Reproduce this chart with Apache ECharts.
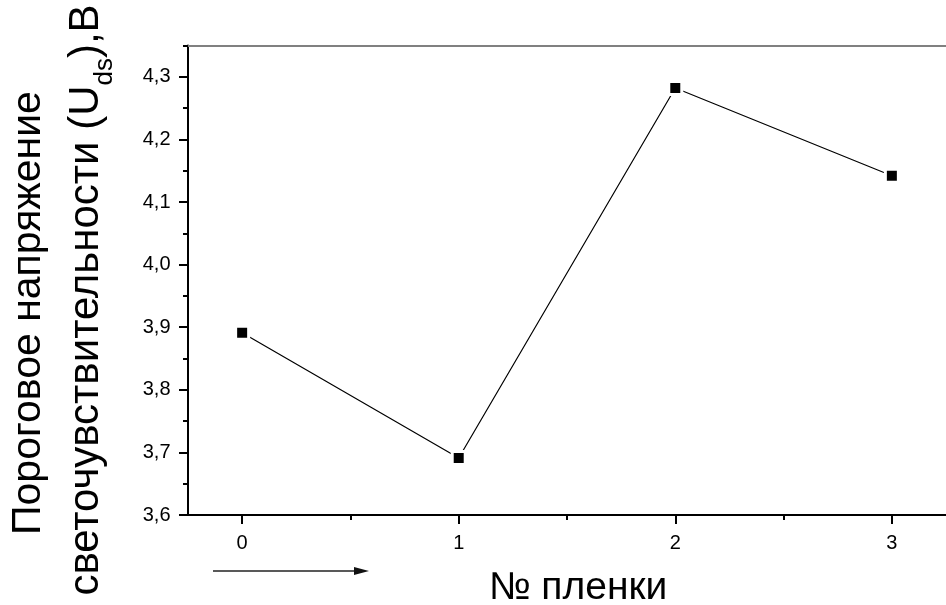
<!DOCTYPE html>
<html>
<head>
<meta charset="utf-8">
<script src="https://cdn.jsdelivr.net/npm/echarts@6/dist/echarts.min.js"></script>
<style>
  html, body { margin: 0; padding: 0; background: #fff; }
  #chart { width: 946px; height: 605px; }
</style>
</head>
<body>
<div id="chart"></div>
<script>
// Film number vs. threshold photosensitivity voltage
const filmNumbers = [0, 1, 2, 3];
const thresholdVoltage = [3.891, 3.691, 4.282, 4.142];
const xTickValues = [0, 1, 2, 3];
const xMinorTickValues = [0.5, 1.5, 2.5];
const yTickValues = [3.6, 3.7, 3.8, 3.9, 4.0, 4.1, 4.2, 4.3];
const yMinorTickValues = [3.65, 3.75, 3.85, 3.95, 4.05, 4.15, 4.25, 4.35];

const FONT = '"Liberation Sans", Arial, sans-serif';
const chart = echarts.init(document.getElementById('chart'));

// text width helper for laying out the rotated title with its subscript
const measureCtx = document.createElement('canvas').getContext('2d');
function textWidth(str, size) {
  measureCtx.font = size + 'px ' + FONT;
  return measureCtx.measureText(str).width;
}

const TITLE1_SIZE = 41;
const TITLE2_SIZE = 42;
const SUB_SIZE = 26;
const line2a = 'светочувствительности (U';
const line2b = 'ds';
const line2c = '),В';
const wA = textWidth(line2a, TITLE2_SIZE);
const wB = textWidth(line2b, SUB_SIZE);
const wC = textWidth(line2c, TITLE2_SIZE);
const line2Total = wA + wB + wC;

const commaFmt = v => v.toFixed(1).replace('.', ',');

function minorAxis(extra) {
  return Object.assign({
    type: 'value',
    offset: 0,
    axisLine: { show: false, onZero: false },
    axisLabel: { show: false },
    splitLine: { show: false }
  }, extra);
}

const option = {
  animation: false,
  backgroundColor: '#ffffff',
  grid: { left: 188, top: 45.5, right: -9, bottom: 90, containLabel: false },
  xAxis: [
    {
      type: 'value', min: -0.25, max: 3.25, position: 'bottom', offset: 0,
      axisLine: { show: true, onZero: false, lineStyle: { color: '#000', width: 2 } },
      axisTick: { show: true, inside: false, length: 9, customValues: xTickValues, lineStyle: { color: '#000', width: 2 } },
      axisLabel: { show: true, customValues: xTickValues, margin: 18, fontFamily: FONT, fontSize: 20, color: '#000',
                   formatter: v => String(Math.round(v)) },
      splitLine: { show: false }
    },
    minorAxis({
      min: -0.25, max: 3.25, position: 'bottom',
      axisTick: { show: true, inside: false, length: 5, customValues: xMinorTickValues, lineStyle: { color: '#000', width: 2 } }
    }),
    {
      type: 'value', min: -0.25, max: 3.25, position: 'top', offset: 0,
      axisLine: { show: true, onZero: false, lineStyle: { color: '#808080', width: 2 } },
      axisTick: { show: false }, axisLabel: { show: false }, splitLine: { show: false }
    }
  ],
  yAxis: [
    {
      type: 'value', min: 3.6, max: 4.35, position: 'left', offset: 0,
      axisLine: { show: true, onZero: false, lineStyle: { color: '#000', width: 2 } },
      axisTick: { show: true, inside: false, length: 9, customValues: yTickValues, lineStyle: { color: '#000', width: 2 } },
      axisLabel: { show: true, customValues: yTickValues, margin: 17.5, fontFamily: FONT, fontSize: 20, color: '#000',
                   formatter: commaFmt },
      splitLine: { show: false }
    },
    minorAxis({
      min: 3.6, max: 4.35, position: 'left',
      axisTick: { show: true, inside: false, length: 5, customValues: yMinorTickValues, lineStyle: { color: '#000', width: 2 } }
    })
  ],
  series: [
    {
      type: 'line',
      xAxisIndex: 0, yAxisIndex: 0,
      data: filmNumbers.map((n, i) => [n, thresholdVoltage[i]]),
      symbol: 'rect',
      symbolSize: 13,
      lineStyle: { color: '#000', width: 1.2 },
      itemStyle: { color: '#000', borderColor: '#fff', borderWidth: 3 },
      z: 5
    }
  ],
  graphic: [
    // Y-axis title, line 1
    {
      type: 'text', x: 29, y: 313, rotation: Math.PI / 2,
      style: { text: 'Пороговое напряжение', font: TITLE1_SIZE + 'px ' + FONT, fill: '#000',
               textAlign: 'center', textVerticalAlign: 'middle' }
    },
    // Y-axis title, line 2 with subscript
    {
      type: 'group', x: 86, y: 300, rotation: Math.PI / 2,
      children: [
        { type: 'text', x: -line2Total / 2, y: 0,
          style: { text: line2a, font: TITLE2_SIZE + 'px ' + FONT, fill: '#000', textAlign: 'left', textVerticalAlign: 'middle' } },
        { type: 'text', x: -line2Total / 2 + wA, y: 19,
          style: { text: line2b, font: SUB_SIZE + 'px ' + FONT, fill: '#000', textAlign: 'left', textVerticalAlign: 'middle' } },
        { type: 'text', x: -line2Total / 2 + wA + wB, y: 0,
          style: { text: line2c, font: TITLE2_SIZE + 'px ' + FONT, fill: '#000', textAlign: 'left', textVerticalAlign: 'middle' } }
      ]
    },
    // X-axis title
    {
      type: 'text', x: 578, y: 588,
      style: { text: '№ пленки', font: '39px ' + FONT, fill: '#000', textAlign: 'center', textVerticalAlign: 'middle' }
    },
    // direction arrow under the axis
    {
      type: 'line', shape: { x1: 213, y1: 571, x2: 358, y2: 571 },
      style: { stroke: '#222', lineWidth: 1.5 }
    },
    {
      type: 'polygon', shape: { points: [[354, 567], [369, 571], [354, 575]] },
      style: { fill: '#111' }
    }
  ]
};

chart.setOption(option);
</script>
</body>
</html>
